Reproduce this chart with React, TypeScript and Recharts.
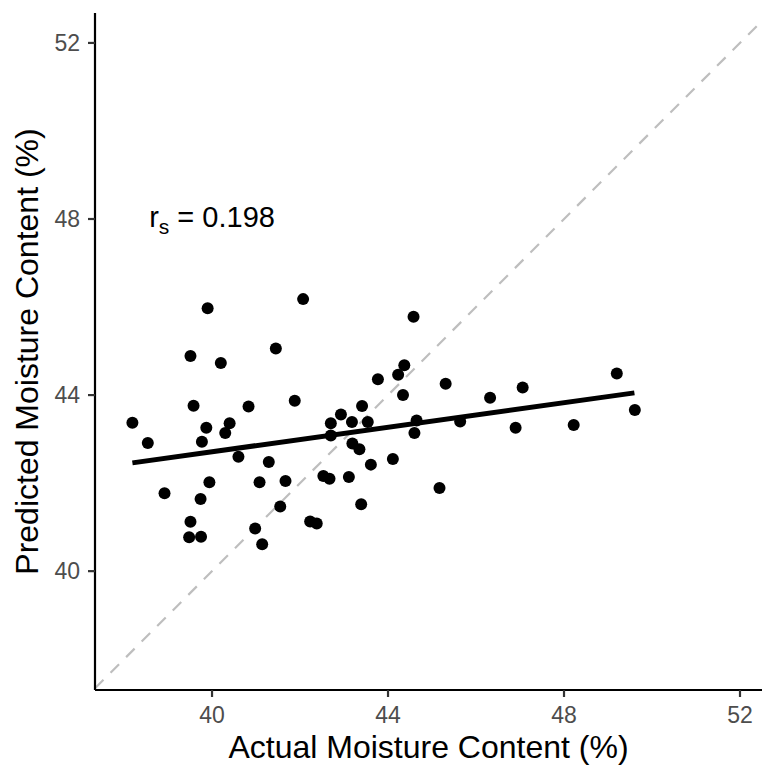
import React from "react";
import {
  ScatterChart,
  Scatter,
  XAxis,
  YAxis,
  ReferenceLine,
} from "recharts";

// measured values (actual %, predicted %)
const actual = [
  39.9, 42.07, 39.51, 40.2, 41.45, 39.58, 40.83, 41.88, 38.19, 39.87,
  40.4, 40.3, 39.77, 38.54, 40.6, 41.29, 39.94, 41.08, 41.67, 38.92,
  39.74, 41.55, 39.51, 39.48, 39.75, 40.98, 41.14, 42.23, 42.38, 44.58,
  44.37, 44.23, 43.77, 45.31, 44.34, 46.32, 43.41, 42.93, 42.7, 43.18,
  43.54, 44.65, 45.64, 42.7, 44.6, 43.19, 43.35, 44.11, 43.61, 42.53,
  42.67, 43.11, 45.17, 43.39, 47.06, 46.9, 48.22, 49.2, 49.61,
];
const predicted = [
  45.97, 46.18, 44.89, 44.73, 45.06, 43.76, 43.74, 43.87, 43.37, 43.26,
  43.36, 43.14, 42.94, 42.91, 42.6, 42.48, 42.02, 42.02, 42.05, 41.77,
  41.64, 41.47, 41.12, 40.77, 40.78, 40.97, 40.61, 41.13, 41.08, 45.78,
  44.68, 44.46, 44.36, 44.26, 44.0, 43.94, 43.75, 43.56, 43.36, 43.39,
  43.39, 43.42, 43.4, 43.08, 43.14, 42.9, 42.77, 42.55, 42.42, 42.16,
  42.1, 42.14, 41.89, 41.52, 44.17, 43.26, 43.32, 44.49, 43.66,
];

// linear fit end points
const fitX = [38.19, 49.6];
const fitY = [42.46, 44.05];

const xDomain: [number, number] = [37.34, 52.5];
const yDomain: [number, number] = [37.3, 52.68];
const xTicks = [40, 44, 48, 52];
const yTicks = [40, 44, 48, 52];

const rsLabel = { x: 40, y: 48, value: "0.198" };

const data = actual.map((a, i) => ({ x: a, y: predicted[i] }));

const FONT = "'Liberation Sans', Arial, Helvetica, sans-serif";

const Dot = (props: any) => {
  const { cx, cy } = props;
  if (cx == null || cy == null) return null;
  return <circle cx={cx} cy={cy} r={6} fill="#000" />;
};

const RsText = (props: any) => {
  const { cx, cy } = props;
  if (cx == null || cy == null) return null;
  return (
    <text
      x={cx}
      y={cy + 8}
      textAnchor="middle"
      fontFamily={FONT}
      fontSize={29}
      fill="#000"
    >
      <tspan>r</tspan>
      <tspan dy={7} fontSize={21}>
        s
      </tspan>
      <tspan dy={-7}>{" = " + rsLabel.value}</tspan>
    </text>
  );
};

const XTitle = (props: any) => {
  const vb = props.viewBox || { x: 95, y: 690, width: 667, height: 77 };
  return (
    <text
      x={vb.x + vb.width / 2}
      y={vb.y + 68}
      textAnchor="middle"
      fontFamily={FONT}
      fontSize={32}
      fill="#000"
    >
      Actual Moisture Content (%)
    </text>
  );
};

const YTitle = (props: any) => {
  const vb = props.viewBox || { x: 0, y: 13, width: 95, height: 677 };
  const cx = vb.x + 38;
  const cy = vb.y + vb.height / 2;
  return (
    <text
      x={cx}
      y={cy}
      transform={`rotate(-90, ${cx}, ${cy})`}
      textAnchor="middle"
      fontFamily={FONT}
      fontSize={32}
      fill="#000"
    >
      Predicted Moisture Content (%)
    </text>
  );
};

export default function App() {
  const tickStyle = { fontSize: 23, fill: "#4d4d4d", fontFamily: FONT };
  return (
    <div style={{ position: "absolute", left: 0, top: 0, background: "#fff" }}>
      <ScatterChart
        width={764}
        height={767}
        margin={{ top: 13, right: 2, bottom: 0, left: 0 }}
      >
        <XAxis
          type="number"
          dataKey="x"
          domain={xDomain}
          ticks={xTicks}
          allowDataOverflow
          height={77}
          tick={tickStyle}
          tickSize={7}
          tickMargin={10}
          axisLine={{ stroke: "#000", strokeWidth: 2.2 }}
          tickLine={{ stroke: "#333", strokeWidth: 2.2 }}
          label={XTitle}
        />
        <YAxis
          type="number"
          dataKey="y"
          domain={yDomain}
          ticks={yTicks}
          allowDataOverflow
          width={95}
          tick={tickStyle}
          tickSize={7}
          tickMargin={8}
          axisLine={{ stroke: "#000", strokeWidth: 2.2 }}
          tickLine={{ stroke: "#333", strokeWidth: 2.2 }}
          label={YTitle}
        />
        <Scatter data={data} shape={Dot} isAnimationActive={false} />
        <ReferenceLine
          segment={[
            { x: xDomain[0], y: xDomain[0] },
            { x: xDomain[1], y: xDomain[1] },
          ]}
          stroke="#bebebe"
          strokeWidth={2.2}
          strokeDasharray="12 10"
        />
        <ReferenceLine
          segment={[
            { x: fitX[0], y: fitY[0] },
            { x: fitX[1], y: fitY[1] },
          ]}
          stroke="#000"
          strokeWidth={5}
        />
        <Scatter
          data={[{ x: rsLabel.x, y: rsLabel.y }]}
          shape={RsText}
          isAnimationActive={false}
        />
      </ScatterChart>
    </div>
  );
}
